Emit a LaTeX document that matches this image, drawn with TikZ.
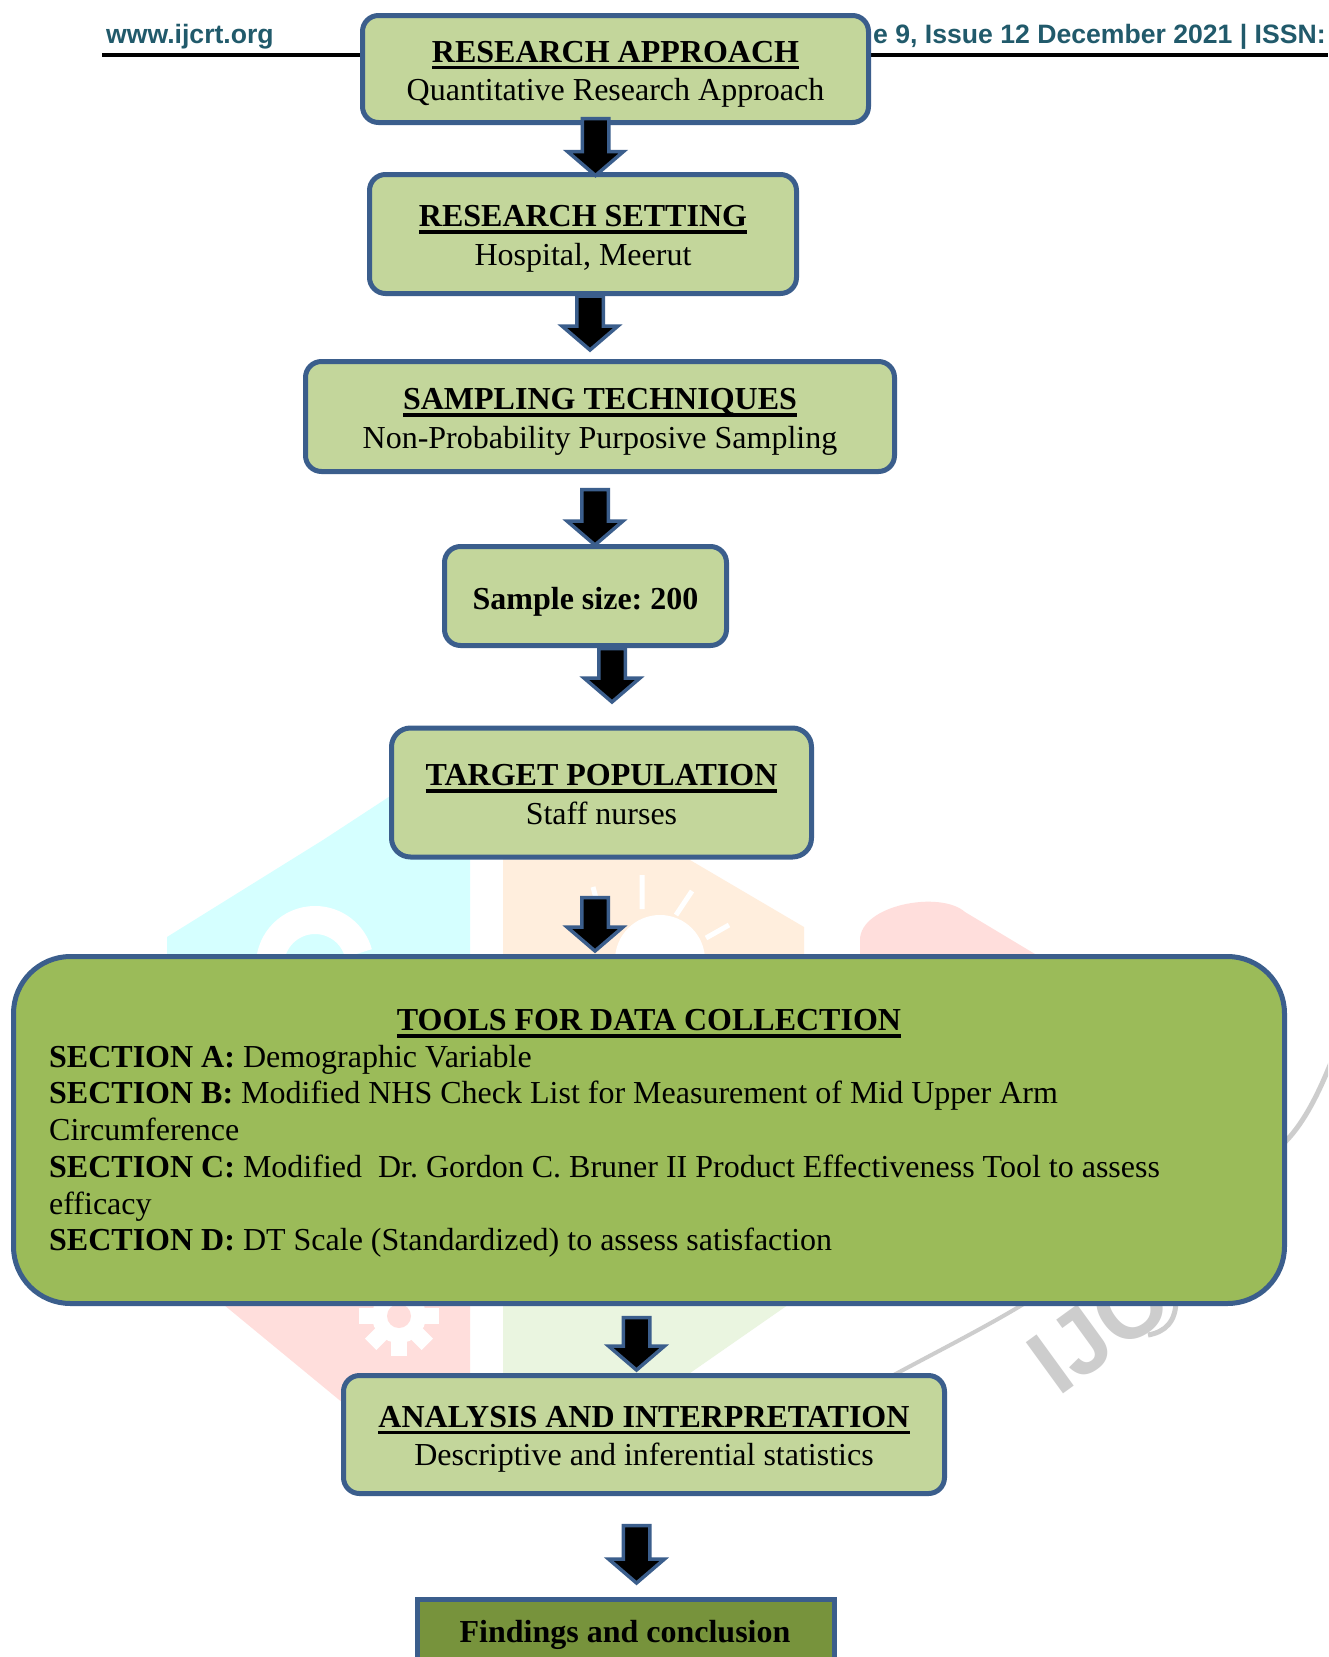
\documentclass[tikz,border=0pt]{standalone}
\usepackage{fontspec}
\setmainfont{Liberation Serif}
\newfontfamily\hdrfont{Liberation Sans}
\usetikzlibrary{calc}
\frenchspacing

\definecolor{boxfill}{HTML}{C3D69B}
\definecolor{bigfill}{HTML}{9BBB59}
\definecolor{endfill}{HTML}{77933C}
\definecolor{boxline}{HTML}{3B5E8C}
\definecolor{hdrcol}{HTML}{215A6B}
\definecolor{wmcyan}{HTML}{D5FFFF}
\definecolor{wmpeach}{HTML}{FFEEDD}
\definecolor{wmpink}{HTML}{FFDEDC}
\definecolor{wmgreen}{HTML}{EAF5E0}
\definecolor{wmgrey}{HTML}{CDCDCD}

\newcommand{\myul}[1]{\setbox0\hbox{#1}\rlap{\rule[-6.8pt]{\wd0}{3.3pt}}\box0}
\newcommand{\lift}[1]{\rule{0pt}{#1pt}}
\newcommand{\blockarr}[2]{%
  \draw[blockarrow] let \p1=(#1), \p2=(#2) in
    (\x1-13.25pt,\y1) -- (\x1+13.25pt,\y1) -- (\x1+13.25pt,\y2+24pt) --
    (\x1+28pt,\y2+24pt) -- (\x1,\y2) -- (\x1-28pt,\y2+24pt) --
    (\x1-13.25pt,\y2+24pt) -- cycle;}

\tikzset{
  stepbox/.style={draw=boxline, line width=5pt, fill=boxfill, rounded corners=16pt,
    inner sep=0pt, align=center, font=\fontsize{32}{38.5}\selectfont},
  bigbox/.style={draw=boxline, line width=5pt, fill=bigfill, rounded corners=57pt, inner sep=0pt},
  endbox/.style={draw=boxline, line width=5pt, fill=endfill, inner sep=0pt},
  blockarrow/.style={draw=boxline, line width=3.5pt, fill=black, line join=miter},
  bodytext/.style={inner sep=0pt, font=\fontsize{32}{36.7}\selectfont},
  hdrtext/.style={inner sep=0pt, text=hdrcol, font=\hdrfont\bfseries\fontsize{26.6}{30}\selectfont},
}

\begin{document}
\begin{tikzpicture}[x=1pt,y=-1pt]
\useasboundingbox (0,0) rectangle (1328,1657);
\clip (0,0) rectangle (1328,1657);
\fill[white] (0,0) rectangle (1328,1657);

% faint watermark
\fill[wmcyan] (167,1000) -- (167,937) -- (323,840) -- (430,770) -- (470,770) -- (470,1000) -- cycle;
\draw[white, line width=28pt] (270,965) arc[start angle=180, end angle=345, radius=45];
\fill[wmpeach] (503,1000) -- (503,830) -- (690,830) -- (690,860) -- (804,927) -- (804,1000) -- cycle;
\fill[white] (615,960) arc[start angle=180, end angle=360, radius=45] -- cycle;
\draw[white, line width=5pt] (642,875) -- (642,909) (692,891) -- (676,915) (729,925) -- (706,938) (593,887) -- (597,902);
\fill[wmpink] (860,1000) -- (860,940) .. controls (860,905) and (940,890) .. (965,912) -- (1045,960) -- (1045,1000) -- cycle;
\fill[wmpink] (218,1300) -- (470,1300) -- (470,1450) -- (400,1450) -- cycle;
\fill[white] (399,1316) circle[radius=27];
\foreach \a in {0,45,...,315} {\fill[white, rotate around={\a:(399,1316)}] (391,1276) rectangle (407,1300);}
\fill[wmpink] (399,1316) circle[radius=12];
\fill[wmgreen] (503,1300) -- (795,1300) -- (680,1380) -- (503,1380) -- cycle;
\fill[white] (568,1300) arc[start angle=180, end angle=0, x radius=92, y radius=-18] -- cycle;
\draw[wmgrey, line width=4pt] (890,1377) .. controls (940,1350) and (990,1325) .. (1030,1300);
\node[anchor=base west, inner sep=0pt, text=wmgrey, rotate=36,
  font=\hdrfont\bfseries\fontsize{92}{92}\selectfont] (wmtext) at (1058,1398) {IJC};
\draw[wmgrey, line width=5pt] (1285,1142) .. controls (1305,1122) and (1320,1090) .. (1332,1060);
\draw[wmgrey, line width=5pt] (1176,1300) .. controls (1176,1322) and (1165,1332) .. (1148,1335);

% header
\draw[black, line width=4pt] (102,55) -- (1328,55);
\node[hdrtext, anchor=base west] (hdrL) at (106,43) {www.ijcrt.org};
\node[hdrtext, anchor=base west] (hdrR) at (873,43) {e 9, Issue 12 December 2021 | ISSN:};

% boxes
\node[stepbox, minimum width=506pt, minimum height=107pt] (b1) at (615.5,69)
  {\lift{32.2}\textbf{\myul{RESEARCH APPROACH}}\\Quantitative Research Approach};
\node[stepbox, minimum width=427pt, minimum height=119pt] (b2) at (583,234)
  {\lift{31.2}\textbf{\myul{RESEARCH SETTING}}\\Hospital, Meerut};
\node[stepbox, minimum width=589pt, minimum height=110pt] (b3) at (600,416.5)
  {\lift{32.2}\textbf{\myul{SAMPLING TECHNIQUES}}\\Non-Probability Purposive Sampling};
\node[stepbox, minimum width=282pt, minimum height=99pt] (b4) at (585.5,596)
  {\lift{33.7}\textbf{Sample size: 200}};
\node[stepbox, rounded corners=19pt, minimum width=420pt, minimum height=129pt] (b5) at (601.5,792.5)
  {\lift{25.2}\textbf{\myul{TARGET POPULATION}}\\Staff nurses};
\node[bigbox, minimum width=1271pt, minimum height=347pt] (b6) at (649,1130) {};
\node[stepbox, minimum width=601pt, minimum height=118pt] (b7) at (644,1434.5)
  {\lift{31.2}\textbf{\myul{ANALYSIS AND INTERPRETATION}}\\Descriptive and inferential statistics};
\node[endbox, minimum width=417pt, minimum height=110pt] (b8) at (626,1654.5) {};

\node[bodytext, anchor=base] (b6title) at (649,1030.7) {\textbf{\myul{TOOLS FOR DATA COLLECTION}}};
\node[bodytext, anchor=north west, align=left] (b6body) at (49,1044.8)
  {\textbf{SECTION A:} Demographic Variable\\
   \textbf{SECTION B:} Modified NHS Check List for Measurement of Mid Upper Arm\\
   Circumference\\
   \textbf{SECTION C:} Modified\ \ Dr. Gordon C. Bruner II Product Effectiveness Tool to assess\\
   efficacy\\
   \textbf{SECTION D:} DT Scale (Standardized) to assess satisfaction};
\node[bodytext, anchor=base] (b8text) at (625,1642.7) {\textbf{Findings and conclusion}};

% block arrows
\coordinate (a1s) at (595.5,118.5); \coordinate (a1e) at (595.5,175.5);
\coordinate (a2s) at (590,296);     \coordinate (a2e) at (590,350);
\coordinate (a3s) at (595,489.5);   \coordinate (a3e) at (595,545);
\coordinate (a4s) at (612,648.5);   \coordinate (a4e) at (612,702);
\coordinate (a5s) at (595,897.5);   \coordinate (a5e) at (595,951);
\coordinate (a6s) at (636.5,1317.5);\coordinate (a6e) at (636.5,1370);
\coordinate (a7s) at (636.5,1525.5);\coordinate (a7e) at (636.5,1583);
\blockarr{a1s}{a1e}
\blockarr{a2s}{a2e}
\blockarr{a3s}{a3e}
\blockarr{a4s}{a4e}
\blockarr{a5s}{a5e}
\blockarr{a6s}{a6e}
\blockarr{a7s}{a7e}
\end{tikzpicture}
\end{document}
